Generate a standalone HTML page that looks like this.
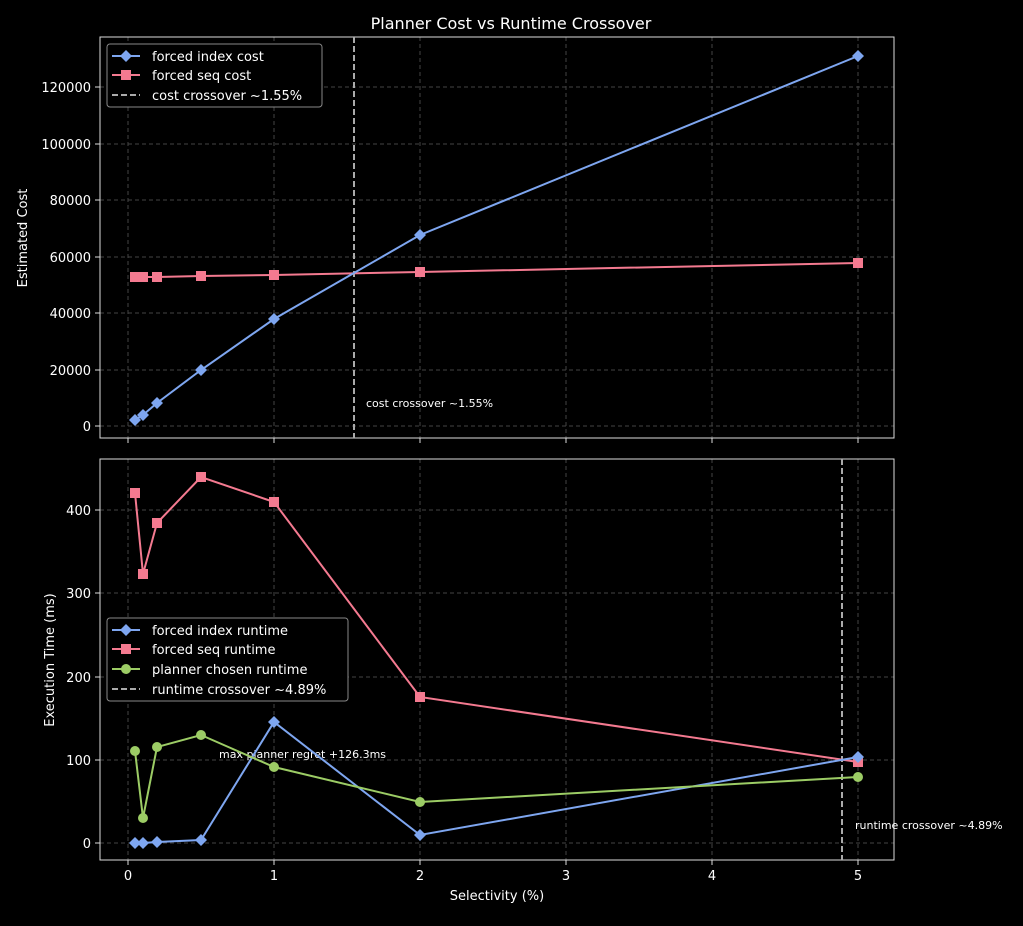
<!DOCTYPE html>
<html><head><meta charset="utf-8"><style>html,body{margin:0;padding:0;background:#000}</style></head>
<body>
<svg width="1023" height="921" viewBox="0 0 1023 921" xmlns="http://www.w3.org/2000/svg" font-family="DejaVu Sans, Liberation Sans, sans-serif" fill="#fff">
<rect width="1023" height="921" fill="#000"/>
<text x="511" y="29" font-size="16" text-anchor="middle">Planner Cost vs Runtime Crossover</text>
<g stroke="#444" stroke-dasharray="4,3" stroke-width="1">
<line x1="128" y1="37" x2="128" y2="438"/><line x1="274" y1="37" x2="274" y2="438"/><line x1="420" y1="37" x2="420" y2="438"/><line x1="566" y1="37" x2="566" y2="438"/><line x1="712" y1="37" x2="712" y2="438"/><line x1="858" y1="37" x2="858" y2="438"/>
<line x1="100" y1="426" x2="894" y2="426"/><line x1="100" y1="370" x2="894" y2="370"/><line x1="100" y1="313" x2="894" y2="313"/><line x1="100" y1="257" x2="894" y2="257"/><line x1="100" y1="200" x2="894" y2="200"/><line x1="100" y1="144" x2="894" y2="144"/><line x1="100" y1="87" x2="894" y2="87"/>
<line x1="128" y1="459" x2="128" y2="860"/><line x1="274" y1="459" x2="274" y2="860"/><line x1="420" y1="459" x2="420" y2="860"/><line x1="566" y1="459" x2="566" y2="860"/><line x1="712" y1="459" x2="712" y2="860"/><line x1="858" y1="459" x2="858" y2="860"/>
<line x1="100" y1="843" x2="894" y2="843"/><line x1="100" y1="760" x2="894" y2="760"/><line x1="100" y1="677" x2="894" y2="677"/><line x1="100" y1="593" x2="894" y2="593"/><line x1="100" y1="510" x2="894" y2="510"/>
</g>
<rect x="100" y="37" width="794" height="401" fill="none" stroke="#ddd"/>
<rect x="100" y="459" width="794" height="401" fill="none" stroke="#ddd"/>
<g stroke="#ddd"><line x1="128" y1="438" x2="128" y2="443"/><line x1="274" y1="438" x2="274" y2="443"/><line x1="420" y1="438" x2="420" y2="443"/><line x1="566" y1="438" x2="566" y2="443"/><line x1="712" y1="438" x2="712" y2="443"/><line x1="858" y1="438" x2="858" y2="443"/>
<line x1="128" y1="860" x2="128" y2="865"/><line x1="274" y1="860" x2="274" y2="865"/><line x1="420" y1="860" x2="420" y2="865"/><line x1="566" y1="860" x2="566" y2="865"/><line x1="712" y1="860" x2="712" y2="865"/><line x1="858" y1="860" x2="858" y2="865"/>
<line x1="95" y1="426" x2="100" y2="426"/><line x1="95" y1="370" x2="100" y2="370"/><line x1="95" y1="313" x2="100" y2="313"/><line x1="95" y1="257" x2="100" y2="257"/><line x1="95" y1="200" x2="100" y2="200"/><line x1="95" y1="144" x2="100" y2="144"/><line x1="95" y1="87" x2="100" y2="87"/>
<line x1="95" y1="843" x2="100" y2="843"/><line x1="95" y1="760" x2="100" y2="760"/><line x1="95" y1="677" x2="100" y2="677"/><line x1="95" y1="593" x2="100" y2="593"/><line x1="95" y1="510" x2="100" y2="510"/></g>
<g font-size="13" text-anchor="end">
<text x="91" y="431">0</text><text x="91" y="375">20000</text><text x="91" y="318">40000</text><text x="91" y="262">60000</text><text x="91" y="205">80000</text><text x="91" y="149">100000</text><text x="91" y="92">120000</text>
<text x="91" y="848">0</text><text x="91" y="765">100</text><text x="91" y="682">200</text><text x="91" y="598">300</text><text x="91" y="515">400</text></g>
<g font-size="13" text-anchor="middle"><text x="128" y="880">0</text><text x="274" y="880">1</text><text x="420" y="880">2</text><text x="566" y="880">3</text><text x="712" y="880">4</text><text x="858" y="880">5</text>
<text x="497" y="900">Selectivity (%)</text></g>
<text font-size="13" text-anchor="middle" transform="translate(27,238) rotate(-90)">Estimated Cost</text>
<text font-size="13" text-anchor="middle" transform="translate(54,660) rotate(-90)">Execution Time (ms)</text>
<line x1="354" y1="37" x2="354" y2="438" stroke="#aaa" stroke-width="2" stroke-dasharray="6,3"/>
<line x1="842" y1="459" x2="842" y2="860" stroke="#aaa" stroke-width="2" stroke-dasharray="6,3"/>
<text x="366" y="407" font-size="11">cost crossover ~1.55%</text>
<text x="855" y="829" font-size="11">runtime crossover ~4.89%</text>
<text x="219" y="758" font-size="11">max planner regret +126.3ms</text>
<polyline fill="none" stroke="#f47a90" stroke-width="2" points="135,277 143,277 157,277 201,276 274,275 420,272 858,263"/>
<g fill="#f47a90"><rect x="130" y="272" width="10" height="10"/><rect x="138" y="272" width="10" height="10"/><rect x="152" y="272" width="10" height="10"/><rect x="196" y="271" width="10" height="10"/><rect x="269" y="270" width="10" height="10"/><rect x="415" y="267" width="10" height="10"/><rect x="853" y="258" width="10" height="10"/></g>
<polyline fill="none" stroke="#7ea6f0" stroke-width="2" points="135,420 143,415 157,403 201,370 274,319 420,235 858,56"/>
<g fill="#7ea6f0"><path d="M135 414l6 6-6 6-6-6z"/><path d="M143 409l6 6-6 6-6-6z"/><path d="M157 397l6 6-6 6-6-6z"/><path d="M201 364l6 6-6 6-6-6z"/><path d="M274 313l6 6-6 6-6-6z"/><path d="M420 229l6 6-6 6-6-6z"/><path d="M858 50l6 6-6 6-6-6z"/></g>
<polyline fill="none" stroke="#f47a90" stroke-width="2" points="135,493 143,574 157,523 201,477 274,502 420,697 858,762"/>
<g fill="#f47a90"><rect x="130" y="488" width="10" height="10"/><rect x="138" y="569" width="10" height="10"/><rect x="152" y="518" width="10" height="10"/><rect x="196" y="472" width="10" height="10"/><rect x="269" y="497" width="10" height="10"/><rect x="415" y="692" width="10" height="10"/><rect x="853" y="757" width="10" height="10"/></g>
<polyline fill="none" stroke="#7ea6f0" stroke-width="2" points="135,843 143,843 157,842 201,840 274,722 420,835 858,757"/>
<g fill="#7ea6f0"><path d="M135 837l6 6-6 6-6-6z"/><path d="M143 837l6 6-6 6-6-6z"/><path d="M157 836l6 6-6 6-6-6z"/><path d="M201 834l6 6-6 6-6-6z"/><path d="M274 716l6 6-6 6-6-6z"/><path d="M420 829l6 6-6 6-6-6z"/><path d="M858 751l6 6-6 6-6-6z"/></g>
<polyline fill="none" stroke="#9ccc65" stroke-width="2" points="135,751 143,818 157,747 201,735 274,767 420,802 858,777"/>
<g fill="#9ccc65"><circle cx="135" cy="751" r="5"/><circle cx="143" cy="818" r="5"/><circle cx="157" cy="747" r="5"/><circle cx="201" cy="735" r="5"/><circle cx="274" cy="767" r="5"/><circle cx="420" cy="802" r="5"/><circle cx="858" cy="777" r="5"/></g>
<rect x="107" y="44" width="215" height="63" rx="3" fill="#000" stroke="#888"/>
<line x1="112" y1="56" x2="140" y2="56" stroke="#7ea6f0" stroke-width="2"/><path d="M126 50l6 6-6 6-6-6z" fill="#7ea6f0"/>
<line x1="112" y1="75" x2="140" y2="75" stroke="#f47a90" stroke-width="2"/><rect x="121" y="70" width="10" height="10" fill="#f47a90"/>
<line x1="112" y1="95" x2="140" y2="95" stroke="#aaa" stroke-width="2" stroke-dasharray="6,3"/>
<g font-size="13"><text x="152" y="61">forced index cost</text><text x="152" y="80">forced seq cost</text><text x="152" y="100">cost crossover ~1.55%</text></g>
<rect x="107" y="618" width="241" height="83" rx="3" fill="#000" stroke="#888"/>
<line x1="112" y1="630" x2="140" y2="630" stroke="#7ea6f0" stroke-width="2"/><path d="M126 624l6 6-6 6-6-6z" fill="#7ea6f0"/>
<line x1="112" y1="649" x2="140" y2="649" stroke="#f47a90" stroke-width="2"/><rect x="121" y="644" width="10" height="10" fill="#f47a90"/>
<line x1="112" y1="669" x2="140" y2="669" stroke="#9ccc65" stroke-width="2"/><circle cx="126" cy="669" r="5" fill="#9ccc65"/>
<line x1="112" y1="689" x2="140" y2="689" stroke="#aaa" stroke-width="2" stroke-dasharray="6,3"/>
<g font-size="13"><text x="152" y="635">forced index runtime</text><text x="152" y="654">forced seq runtime</text><text x="152" y="674">planner chosen runtime</text><text x="152" y="694">runtime crossover ~4.89%</text></g>
</svg>
</body></html>
